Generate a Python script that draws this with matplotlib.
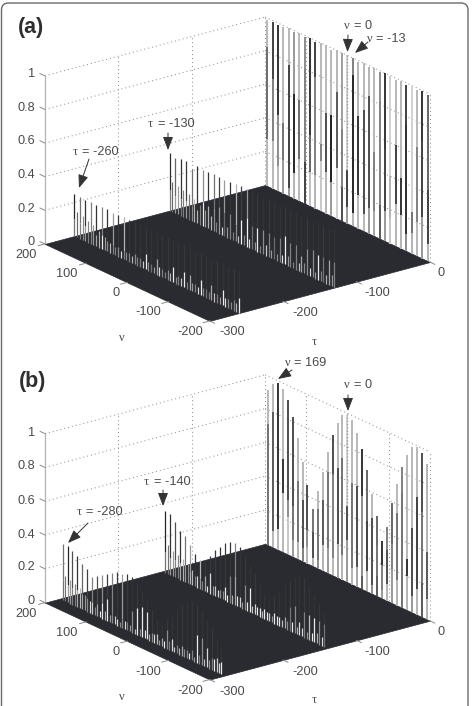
import numpy as np
import matplotlib
matplotlib.use("Agg")
import matplotlib.pyplot as plt
from matplotlib.lines import Line2D
from matplotlib.path import Path
from matplotlib.patches import PathPatch
from mpl_toolkits.mplot3d import proj3d
from mpl_toolkits.mplot3d.art3d import Line3DCollection, Poly3DCollection

W, H = 472, 706
SANS = "Liberation Sans"
SERIF = "Liberation Serif"
TEXT = "#4a4a4a"
FLOOR = "#2a2b30"
GRID = "#969696"

# Doppler grids
NU_A = [195, 182, 169, 156, 143, 130, 117, 104, 91, 78, 65, 52, 39, 26, 13, 0,
        -13, -26, -39, -52, -65, -78, -91, -104, -117, -130, -143, -156, -169, -182, -195]
NU_A_SIDE = [200, 187, 173, 160, 147, 133, 120, 107, 93, 80, 67, 53, 40, 27, 13, 0,
             -13, -27, -40, -53, -67, -80, -93, -107, -120, -133, -147, -160, -173, -187, -200]
NU_B = [193, 181, 169, 157, 145, 133, 121, 109, 97, 84, 72, 60, 48, 36, 24, 12, 0,
        -12, -24, -36, -48, -60, -72, -84, -97, -109, -121, -133, -145, -157, -169, -181, -193]

# Panel (a), delay 0
A0_H = [.99, .99, .99, .99, 1, .99, 1, .99, 1, .99, 1, 1, .99, 1, 1, 1,
        1, .99, 1, .99, 1, .99, 1, 1, .99, 1, .99, 1, .99, 1, .99]
A0_TOP = [.72, .25, .2, .72, .72, .6, .72, .55, .2, .25, .72, .72, .72, .72, .62, .82,
          .5, .7, .72, .7, .72, .55, .2, .82, .72, .72, .25, .82, .72, .2, .4]
A0_HI = [.83, .65, .45, .42, .78, .62, .6, .8, .42, .78, .4, .6, .6, .75, .55, .32,
         .9, .67, .72, .82, .5, .82, .55, .4, .6, .42, .75, .25, .65, .7, .42]
A0_MID = [.42, .5, .55, .45, .25, .15, .42, .5, .4, .5, .5, .3, .12, .35, .5, .25,
          .15, .2, .3, .3, .5, .5, .25, .7, .25, .2, .18, .45, .5, .25, .25]
A0_LO = [.28, .28, .15, .2, .05, .15, .25, .25, .2, .2, .3, .25, .2, .3, .2, .1,
         .08, .2, .1, .15, .15, .2, .18, .15, .25, .2, .1, .12, .2, .25, .1]
A0_LOW = [.72, .72, .72, .6, .6, .7, .72, .25, .75, .7, .78, .7, .6, .82, .3, .6,
          .7, .72, .72, .6, .65, .35, .6, .78, .7, .7, .55, .7, .72, .6, .7]

# Panel (a), delay -130
A1_H = [.34, .33, .337, .34, .307, .34, .335, .337, .34, .34, .337, .34, .34, .345, .34, .34,
        .34, .335, .34, .34, .33, .34, .34, .335, .34, .34, .33, .34, .34, .335, .34]
A1_LIGHT = [.12, .1, .1, .1, .09, .08, .14, .135, .14, .16, .14, .145, .10, .14, .17, .14,
            .14, .147, .143, .133, .143, .17, .145, .145, .097, .15, .165, .15, .15, .15, .15]
A1_UP = [.18, .4, .2, .22, .45, .2, .55, .2, .45, .25, .6, .2, .7, .25, .6, .2,
         .22, .2, .22, .2, .2, .22, .2, .2, .2, .22, .2, .2, .22, .2, .2]
A1_DOWN = [.5, .6, .45, .6, .55, .7, .92, .7, .55, .6, .4, .5, .55, .95, .95, .45,
           .92, .55, .5, .42, .5, .95, .5, .5, .65, .55, .55, .92, .45, .65, .5]
A1_SHORT = [.18, .17, .16, .15, .14, .12, .1, .08, .06, .05, .06, .05, .04, .06, .05,
            .05, .04, .06, .05, .04, .05, .06, .04, .05, .06, .05, .04, .06, .05, .07]
A1_SHORT_SHADE = [.4, .6, .5, .45, .7, .5, .6, .72, .5, .85, .6, .5, .75, .55, .85,
                  .6, .5, .8, .6, .55, .88, .6, .5, .75, .55, .85, .6, .5, .7, .6]

# Panel (a), delay -260
A2_H = [.25, .25, .245, .25, .245, .25, .25, .245, .25, .25, .245, .25, .25, .245, .25, .25,
        .245, .25, .25, .245, .25, .25, .245, .25, .25, .245, .25, .25, .245, .25, .25]
A2_LIGHT = [.1, .09, .09, .08, .07, .085, .06, .05, .06, .05, .05, .06, .05, .09, .05, .09,
            .05, .06, .09, .05, .09, .09, .05, .09, .05, .09, .05, .09, .05, .06, .09]
A2_UP = [.15, .45, .2, .5, .2, .5, .2, .6, .22, .7, .2, .22, .2, .22, .2, .2,
         .2, .22, .2, .2, .22, .2, .2, .22, .2, .2, .22, .2, .2, .22, .2]
A2_DOWN = [.45, .5, .6, .5, .65, .92, .55, .5, .55, .5, .5, .55, .5, .92, .45, .65,
           .5, .55, .92, .5, .92, .65, .5, .92, .45, .65, .5, .92, .55, .5, .92]
A2_SHORT = [.15, .14, .13, .12, .1, .08, .06, .05, .04, .05, .04, .05, .04, .05, .04,
            .05, .04, .05, .04, .05, .04, .05, .04, .05, .04, .05, .04, .05, .04, .05]
A2_SHORT_SHADE = [.4, .55, .5, .6, .7, .6, .72, .5, .85, .55, .7, .5, .8, .55, .6,
                  .85, .5, .7, .55, .8, .5, .6, .85, .55, .5, .75, .6, .88, .55, .7]

# Panel (b), delay 0
B0_H = [.917, .97, .988, .966, .915, .826, .716, .59, .464, .34, .46, .584, .716, .83, .917, .976, .99,
        .974, .913, .832, .72, .59, .473, .34, .44, .594, .722, .834, .921, .98, .996, .974, .919]
B0_TOP = [.72, .72, .2, .72, .3, .3, .72, .72, .3, .45, .72, .72, .72, .3, .72, .72, .82,
          .72, .72, .2, .4, .72, .4, .2, .5, .4, .72, .5, .72, .72, .72, .3, .7]
B0_HI = [.72, .8, .2, .55, .32, .3, .46, .36, .2, .2, .35, .42, .6, .6, .65, .72, .45,
         .6, .6, .55, .42, .45, .3, .2, .3, .35, .55, .68, .3, .5, .7, .62, .4]
B0_MID = [.45, .35, .2, .2, .55, .45, .45, .3, .55, .3, .45, .35, .45, .5, .3, .45, .3,
          .45, .3, .55, .25, .3, .45, .5, .3, .5, .45, .45, .2, .3, .25, .45, .35]
B0_LO = [.02, .1, .12, .35, .22, .1, .1, .08, .1, .05, .05, .15, .15, .1, .2, .15, .25,
         .1, .12, .08, .12, .05, .12, .05, .1, .2, .15, .1, .2, .1, .15, .2, .12]
B0_LOW = [.45, .72, .72, .72, .78, .6, .7, .5, .7, .7, .55, .7, .6, .72, .65, .7, .6,
          .7, .65, .35, .7, .55, .35, .6, .7, .6, .7, .45, .7, .6, .7, .35, .7]

# Panel (b), delay -140
B1_H = [.365, .36, .325, .29, .27, .23, .19, .17, .17, .22, .27, .30, .34, .36, .365, .355, .32,
        .28, .24, .19, .15, .13, .17, .21, .26, .30, .33, .35, .35, .32, .28, .24, .2]
B1_LIGHT = [.12, .1, .1, .1, .1, .08, .06, .06, .09, .12, .06, .05, .08, .16, .17, .06, .145,
            .14, .06, .05, .06, .05, .06, .05, .07, .14, .16, .08, .15, .15, .146, .14, .136]
B1_UP = [.15, .2, .3, .2, .45, .6, .2, .7, .22, .22, .22, .2, .22, .2, .5, .2, .22,
         .2, .22, .2, .2, .2, .22, .2, .2, .22, .2, .2, .22, .2, .2, .22, .2]
B1_DOWN = [.45, .6, .5, .65, .6, .7, .5, .6, .65, .85, .8, .55, .92, .5, .65, .8, .55,
           .92, .85, .92, .92, .8, .92, .9, .65, .45, .55, .85, .5, .75, .92, .55, .45]
B1_SHORT = [.17, .15, .14, .13, .11, .09, .07, .05, .04, .05, .04, .05, .04, .05, .06, .04,
            .05, .04, .05, .04, .05, .04, .05, .04, .05, .06, .04, .05, .04, .05, .06, .05]
B1_SHORT_SHADE = [.45, .6, .5, .7, .55, .72, .85, .5, .9, .6, .85, .55, .92, .7, .9, .6,
                  .92, .8, .92, .7, .92, .6, .9, .75, .55, .92, .7, .85, .6, .92, .7, .85]

# Panel (b), delay -280
B2_H = [.33, .333, .316, .30, .27, .25, .22, .24, .26, .28, .30, .32, .32, .33, .33, .30, .27,
        .23, .19, .15, .13, .17, .21, .26, .30, .33, .35, .35, .32, .28, .24, .2, .17]
B2_LIGHT = [.12, .1, .1, .1, .09, .08, .07, .07, .09, .13, .05, .04, .05, .05, .13, .16, .18,
            .16, .05, .06, .05, .11, .07, .05, .06, .05, .06, .165, .16, .117, .07, .08, .07]
B2_UP = [.45, .15, .3, .2, .4, .25, .5, .3, .55, .25, .5, .22, .6, .22, .2, .22, .2,
         .2, .22, .2, .2, .22, .2, .2, .22, .2, .2, .22, .2, .2, .22, .2, .2]
B2_DOWN = [.45, .6, .5, .65, .65, .55, .8, .65, .9, .92, .55, .85, .55, .5, .55, .92, .92,
           .9, .55, .75, .65, .55, .85, .5, .65, .55, .5, .92, .55, .85, .5, .8, .92]
B2_SHORT = [.15, .14, .13, .12, .09, .07, .05, .04, .05, .04, .05, .03, .05, .04, .03, .04,
            .05, .04, .05, .03, .04, .05, .03, .04, .05, .04, .03, .05, .04, .05, .07, .06]
B2_SHORT_SHADE = [.45, .6, .5, .72, .6, .85, .55, .9, .7, .6, .8, .55, .85, .6, .75, .55,
                  .9, .7, .85, .6, .92, .5, .8, .7, .55, .9, .6, .5, .75, .6, .92, .85]

Z_TICKS = [0, .2, .4, .6, .8, 1]
Z_LABELS = ["0", "0.2", "0.4", "0.6", "0.8", "1"]
NU_TICKS = ["200", "100", "0", "-100", "-200"]
TAU_TICKS = ["0", "-100", "-200", "-300"]

plt.rcParams["font.family"] = SANS
fig = plt.figure(figsize=(W / 100, H / 100), dpi=100, facecolor="white")


def gray(v):
    return str(float(v))


def add_segments(ax, segments, colors, lw, zorder):
    coll = Line3DCollection(segments, colors=colors, linewidths=lw, zorder=zorder, capstyle="butt")
    ax.add_collection3d(coll, autolim=False)


def new_panel(back, left, right, zscale):
    """3D axes with an orthographic camera, placed so the floor corners land on the given pixels."""
    ax = fig.add_axes([0, 0, 1, 1], projection="3d", proj_type="ortho", computed_zorder=False)
    ax.view_init(elev=20.7, azim=-127.1, roll=0)
    ax.set_box_aspect((276, 273, zscale / np.cos(np.radians(20.7))))
    ax.set_xlim(-300, 0, view_margin=0)
    ax.set_ylim(-200, 200, view_margin=0)
    ax.set_zlim(0, 1, view_margin=0)
    ax.set_axis_off()
    ax.patch.set_visible(False)

    xs = np.array([0.0, -300.0, 0.0, 0.0])
    ys = np.array([200.0, 200.0, -200.0, 200.0])
    zs = np.array([0.0, 0.0, 0.0, 1.0])
    px, py, _ = proj3d.proj_transform(xs, ys, zs, ax.get_proj())
    tx = np.array([back[0], left[0], right[0], back[0]], float)
    ty = H - np.array([back[1], left[1], right[1], back[1] - zscale], float)
    # common scale and offset from projection units to pixels
    n = len(px)
    design = np.zeros((2 * n, 3))
    design[:n, 0] = px
    design[:n, 1] = 1
    design[n:, 0] = py
    design[n:, 2] = 1
    (s, ox, oy), *_ = np.linalg.lstsq(design, np.r_[tx, ty], rcond=None)
    x0, x1 = ax.viewLim.intervalx
    y0, y1 = ax.viewLim.intervaly
    size = s * (x1 - x0)
    ax.set_position([(ox + s * x0) / W, (oy + s * y0) / H, size / W, size / H])
    return ax


def draw_box(ax):
    dotted = dict(color=GRID, lw=0.75, linestyle=(0, (1, 2.8)), zorder=0)
    for z in [.2, .4, .6, .8, 1]:
        ax.plot([-300, 0], [200, 200], [z, z], **dotted)
        ax.plot([0, 0], [200, -200], [z, z], **dotted)
    for t in [-200, -100]:
        ax.plot([t, t], [200, 200], [0, 1], **dotted)
    for n in [100, 0, -100]:
        ax.plot([0, 0], [n, n], [0, 1], **dotted)
    ax.plot([0, 0], [200, 200], [0, 1], **dotted)
    ax.plot([0, 0], [-200, -200], [0, 1], **dotted)
    ax.plot([-300, -300], [200, 200], [0, 1], color="#b5b5b5", lw=0.9, zorder=0)
    floor = Poly3DCollection([[(-300, 200, 0), (0, 200, 0), (0, -200, 0), (-300, -200, 0)]],
                             facecolors=FLOOR, edgecolors=FLOOR, linewidths=0.5, zorder=1)
    ax.add_collection3d(floor, autolim=False)


def ticks_on_edges(ax):
    edge = dict(color="#8c8c8c", lw=0.7, zorder=1)
    for z in Z_TICKS:
        ax.plot([-300, -300], [200, 212], [z, z], **edge)
    for n in [200, 100, 0, -100, -200]:
        ax.plot([-300, -309], [n, n], [0, 0], **edge)
    for t in [0, -100, -200, -300]:
        ax.plot([t, t], [-200, -212], [0, 0], **edge)


def main_row(ax, nus, heights, top, hi, mid, lo, low, zorder):
    segs, cols = [], []
    for n, h, c1, b1, c2, b2, c3 in zip(nus, heights, top, hi, mid, lo, low):
        for z0, z1, c in ((b1, h, c1), (b2, b1, c2), (0, b2, c3)):
            segs.append([(0, n, z0), (0, n, z1)])
            cols.append(gray(c))
    add_segments(ax, segs, cols, 1.4, zorder)


def side_row(ax, tau, nus, heights, light, up, down, short, short_shade, zorder):
    segs, cols = [], []
    for n, h, b, c1, c2 in zip(nus, heights, light, up, down):
        segs.append([(tau, n, b), (tau, n, h)])
        cols.append(gray(c1))
        segs.append([(tau, n, 0), (tau, n, b)])
        cols.append(gray(c2))
    add_segments(ax, segs, cols, 0.9, zorder)
    mids = [(a + b) / 2 for a, b in zip(nus[:-1], nus[1:])]
    segs = [[(tau, n, 0), (tau, n, h)] for n, h in zip(mids, short)]
    add_segments(ax, segs, [gray(c) for c in short_shade], 0.85, zorder + 1)


# ---- panel (a) ----
ax_a = new_panel(back=(265, 185), left=(45, 244), right=(430, 262), zscale=168)
draw_box(ax_a)
ticks_on_edges(ax_a)
side_row(ax_a, -260, NU_A_SIDE, A2_H, A2_LIGHT, A2_UP, A2_DOWN, A2_SHORT, A2_SHORT_SHADE, 6)
side_row(ax_a, -130, NU_A_SIDE, A1_H, A1_LIGHT, A1_UP, A1_DOWN, A1_SHORT, A1_SHORT_SHADE, 4)
main_row(ax_a, NU_A, A0_H, A0_TOP, A0_HI, A0_MID, A0_LO, A0_LOW, 2)
ax_a.plot([0, 0], [0, 0], [.32, 1], color=GRID, lw=0.9, linestyle=(0, (1, 1.6)), zorder=3)

# ---- panel (b) ----
ax_b = new_panel(back=(265, 544), left=(45, 603), right=(430, 620), zscale=169)
draw_box(ax_b)
ticks_on_edges(ax_b)
side_row(ax_b, -280, NU_B, B2_H, B2_LIGHT, B2_UP, B2_DOWN, B2_SHORT, B2_SHORT_SHADE, 6)
side_row(ax_b, -140, NU_B, B1_H, B1_LIGHT, B1_UP, B1_DOWN, B1_SHORT, B1_SHORT_SHADE, 4)
main_row(ax_b, NU_B, B0_H, B0_TOP, B0_HI, B0_MID, B0_LO, B0_LOW, 2)
ax_b.plot([0, 0], [0, 0], [.45, 1], color=GRID, lw=0.9, linestyle=(0, (1, 1.6)), zorder=3)

# ---- pixel-space overlay: frame, labels, arrows ----
over = fig.add_axes([0, 0, 1, 1], facecolor="none")
over.set_xlim(0, W)
over.set_ylim(H, 0)
over.set_axis_off()

# frame open at the bottom, with rounded top corners
frame = Path([(1.5, 720), (1.5, 10), (1.5, 3), (8.5, 3), (461, 3), (468, 3), (468, 10), (468, 720)],
             [Path.MOVETO, Path.LINETO, Path.CURVE3, Path.CURVE3, Path.LINETO, Path.CURVE3, Path.CURVE3, Path.LINETO])
over.add_patch(PathPatch(frame, fc="none", ec="#6a6a6a", lw=1.0))


def tick_text(x, y, s, ha="center"):
    over.text(x, y, s, ha=ha, va="center", fontsize=9.2, color=TEXT, family=SANS)


def greek_label(x0, y, greek, rest):
    over.text(x0, y, greek, ha="left", va="center", fontsize=9, color=TEXT, family=SERIF)
    over.text(x0 + 9.5, y, rest, ha="left", va="center", fontsize=9.2, color=TEXT, family=SANS)


def arrow(start, tip):
    over.annotate("", xy=tip, xytext=start,
                  arrowprops=dict(arrowstyle="-|>,head_length=0.62,head_width=0.24", mutation_scale=13,
                                  lw=0.7, color="#333333", shrinkA=0, shrinkB=0))


for z_rows, nu_rows, tau_rows, xlab_y in (
    ([242, 209, 175, 141, 108, 74],
     [255, 274, 293, 312, 332], [273, 293, 313, 332], (338, 342)),
    ([601, 567, 535, 501, 466, 433],
     [614, 633, 652, 672, 691], [632, 652, 672, 692], (697, 700)),
):
    for lab, y in zip(Z_LABELS, z_rows):
        tick_text(35, y, lab, ha="right")
    for lab, x, y in zip(NU_TICKS, [26, 67, 116, 148, 190], nu_rows):
        tick_text(x, y, lab)
    for lab, x, y in zip(TAU_TICKS, [441, 377, 305, 232], tau_rows):
        tick_text(x, y, lab)
    over.text(122, xlab_y[0], "ν", ha="center", va="center", fontsize=9, color=TEXT, family=SERIF)
    over.text(314, xlab_y[1], "τ", ha="center", va="center", fontsize=9, color=TEXT, family=SERIF)

over.text(18, 27, "(a)", ha="left", va="center", fontsize=15.5, fontweight="bold", color="#2f2f2f")
over.text(19, 381, "(b)", ha="left", va="center", fontsize=15.5, fontweight="bold", color="#2f2f2f")

greek_label(344, 26, "ν", "= 0")
greek_label(367, 39, "ν", "= -13")
greek_label(148, 124, "τ", "= -130")
greek_label(73, 152, "τ", "= -260")
greek_label(285, 363, "ν", "= 169")
greek_label(344, 385, "ν", "= 0")
greek_label(144, 482, "τ", "= -140")
greek_label(77, 512, "τ", "= -280")

arrow((348, 35), (347.5, 52))
arrow((368, 42), (355, 53))
arrow((168, 133), (168, 150))
arrow((89, 159), (79, 188))
arrow((292, 370), (278, 379))
arrow((348, 395), (348, 411))
arrow((163, 490), (163, 506))
arrow((88, 523), (68, 543))

fig.savefig("out.png", dpi=100, facecolor="white")
